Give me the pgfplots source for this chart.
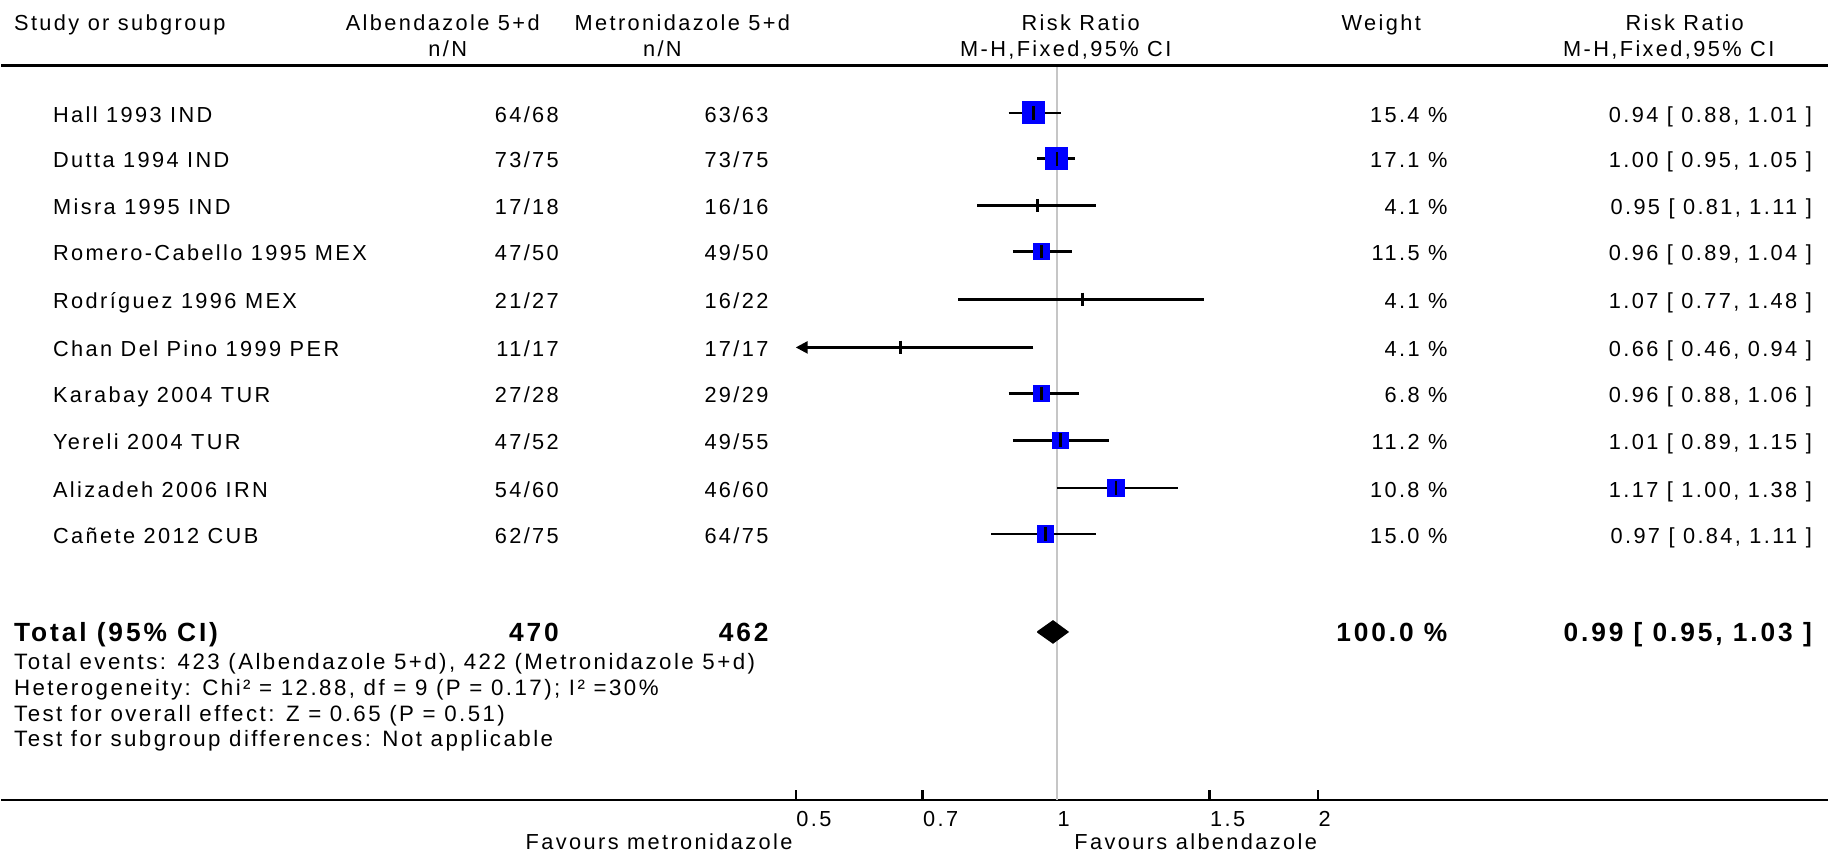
\documentclass[border=0pt]{standalone}
\usepackage{fontspec}
\setmainfont{Liberation Sans}[LetterSpace=11]
\usepackage{pgfplots}
\pgfplotsset{compat=1.18}
\usetikzlibrary{arrows.meta}

% text cell: anchor, x (px from left), y (px from top), text
\newcommand{\cell}[4]{\node[anchor=#1, inner sep=0pt] at (rel axis cs:#2/1829,1-#3/801) {#4};}
\newcommand{\bigb}{\fontsize{7.5}{9}\selectfont\bfseries}
\newcommand{\foot}{\fontsize{6.35}{7.6}\selectfont}

\begin{document}
\begin{tikzpicture}[font=\fontsize{6.2}{7.4}\selectfont]
\begin{axis}[
    scale only axis,
    width=182.9mm, height=80.1mm,
    xmode=log,
    xmin=0.0607, xmax=7.74,
    ymin=-801, ymax=0,
    axis x line*=bottom,
    axis y line=none,
    x axis line style={line width=0.22mm},
    xtick={0.5,0.7,1,1.5,2},
    xticklabels={0.5,0.7,1,1.5,2},
    minor tick num=0,
    tick align=inside,
    major tick length=1mm,
    xtick style={line width=0.22mm, black},
    xticklabel style={anchor=north west, inner sep=0pt, yshift=-1.1mm,
        font=\fontsize{6.2}{7.4}\selectfont},
    clip=false,
]

% line of no effect
\addplot[gray!45, line width=0.22mm] coordinates {(1,-66) (1,-801)};

% ---- confidence intervals ----
\addplot[black, line width=0.25mm] coordinates {(0.88,-113) (1.01,-113)};
\addplot[black, line width=0.25mm] coordinates {(0.95,-159) (1.05,-159)};
\addplot[black, line width=0.25mm] coordinates {(0.81,-206) (1.11,-206)};
\addplot[black, line width=0.25mm] coordinates {(0.89,-252) (1.04,-252)};
\addplot[black, line width=0.25mm] coordinates {(0.77,-300) (1.48,-300)};
\addplot[black, line width=0.25mm, -{Triangle[length=1.2mm,width=1.2mm]}]
    coordinates {(0.94,-348) (0.5,-348)};   % lower limit 0.46 is off scale
\addplot[black, line width=0.25mm] coordinates {(0.88,-394) (1.06,-394)};
\addplot[black, line width=0.25mm] coordinates {(0.89,-441) (1.15,-441)};
\addplot[black, line width=0.25mm] coordinates {(1.00,-489) (1.38,-489)};
\addplot[black, line width=0.25mm] coordinates {(0.84,-535) (1.11,-535)};

% ---- weight squares ----
\addplot[only marks, mark=square*, mark size=1.08mm, blue, mark options={draw=blue, fill=blue}]
    coordinates {(0.94,-113) (1.00,-159)};
\addplot[only marks, mark=square*, mark size=0.8mm, blue, mark options={draw=blue, fill=blue}]
    coordinates {(1.01,-441) (1.17,-489) (0.97,-535)};
\addplot[only marks, mark=square*, mark size=0.76mm, blue, mark options={draw=blue, fill=blue}]
    coordinates {(0.96,-252) (0.96,-394)};

% ---- point estimates ----
\addplot[only marks, mark=|, mark size=0.68mm, black, mark options={line width=0.25mm}]
    coordinates {
        (0.94,-113) (1.00,-159) (0.95,-206) (0.96,-252) (1.07,-300)
        (0.66,-348) (0.96,-394) (1.01,-441) (1.17,-489) (0.97,-535)
    };

% ---- pooled estimate ----
\addplot[black, fill=black]
    coordinates {(0.95,-633) (0.99,-622) (1.03,-633) (0.99,-644) (0.95,-633)};

% header rule
\draw[line width=0.3mm] (rel axis cs:0,1-66/801) -- (rel axis cs:1,1-66/801);

% ---- header ----
\cell{mid west}{12}{21}{Study or subgroup}
\cell{mid}{442}{21}{Albendazole 5+d}
\cell{mid}{447}{47}{n/N}
\cell{mid}{682}{21}{Metronidazole 5+d}
\cell{mid}{662}{47}{n/N}
\cell{mid}{1081}{21}{Risk Ratio}
\cell{mid}{1066}{47}{M-H,Fixed,95\% CI}
\cell{mid}{1382}{21}{Weight}
\cell{mid}{1686}{21}{Risk Ratio}
\cell{mid}{1670}{47}{M-H,Fixed,95\% CI}

% ---- study rows ----
\cell{mid west}{51}{113}{Hall 1993 IND}
\cell{mid west}{51}{159}{Dutta 1994 IND}
\cell{mid west}{51}{206}{Misra 1995 IND}
\cell{mid west}{51}{252}{Romero-Cabello 1995 MEX}
\cell{mid west}{51}{300}{Rodríguez 1996 MEX}
\cell{mid west}{51}{348}{Chan Del Pino 1999 PER}
\cell{mid west}{51}{394}{Karabay 2004 TUR}
\cell{mid west}{51}{441}{Yereli 2004 TUR}
\cell{mid west}{51}{489}{Alizadeh 2006 IRN}
\cell{mid west}{51}{535}{Cañete 2012 CUB}

\cell{mid east}{559}{113}{64/68}
\cell{mid east}{559}{159}{73/75}
\cell{mid east}{559}{206}{17/18}
\cell{mid east}{559}{252}{47/50}
\cell{mid east}{559}{300}{21/27}
\cell{mid east}{559}{348}{11/17}
\cell{mid east}{559}{394}{27/28}
\cell{mid east}{559}{441}{47/52}
\cell{mid east}{559}{489}{54/60}
\cell{mid east}{559}{535}{62/75}

\cell{mid east}{769}{113}{63/63}
\cell{mid east}{769}{159}{73/75}
\cell{mid east}{769}{206}{16/16}
\cell{mid east}{769}{252}{49/50}
\cell{mid east}{769}{300}{16/22}
\cell{mid east}{769}{348}{17/17}
\cell{mid east}{769}{394}{29/29}
\cell{mid east}{769}{441}{49/55}
\cell{mid east}{769}{489}{46/60}
\cell{mid east}{769}{535}{64/75}

\cell{mid east}{1449}{113}{15.4 \%}
\cell{mid east}{1449}{159}{17.1 \%}
\cell{mid east}{1449}{206}{4.1 \%}
\cell{mid east}{1449}{252}{11.5 \%}
\cell{mid east}{1449}{300}{4.1 \%}
\cell{mid east}{1449}{348}{4.1 \%}
\cell{mid east}{1449}{394}{6.8 \%}
\cell{mid east}{1449}{441}{11.2 \%}
\cell{mid east}{1449}{489}{10.8 \%}
\cell{mid east}{1449}{535}{15.0 \%}

\cell{mid east}{1814}{113}{0.94 [ 0.88, 1.01 ]}
\cell{mid east}{1814}{159}{1.00 [ 0.95, 1.05 ]}
\cell{mid east}{1814}{206}{0.95 [ 0.81, 1.11 ]}
\cell{mid east}{1814}{252}{0.96 [ 0.89, 1.04 ]}
\cell{mid east}{1814}{300}{1.07 [ 0.77, 1.48 ]}
\cell{mid east}{1814}{348}{0.66 [ 0.46, 0.94 ]}
\cell{mid east}{1814}{394}{0.96 [ 0.88, 1.06 ]}
\cell{mid east}{1814}{441}{1.01 [ 0.89, 1.15 ]}
\cell{mid east}{1814}{489}{1.17 [ 1.00, 1.38 ]}
\cell{mid east}{1814}{535}{0.97 [ 0.84, 1.11 ]}

% ---- total ----
\cell{mid west}{12}{633}{\bigb Total (95\% CI)}
\cell{mid east}{559}{633}{\bigb 470}
\cell{mid east}{769}{633}{\bigb 462}
\cell{mid east}{1449}{633}{\bigb 100.0 \%}
\cell{mid east}{1814}{633}{\bigb 0.99 [ 0.95, 1.03 ]}

\cell{mid west}{12}{661}{\foot Total events: 423 (Albendazole 5+d), 422 (Metronidazole 5+d)}
\cell{mid west}{12}{687}{\foot Heterogeneity: Chi² = 12.88, df = 9 (P = 0.17); I² =30\%}
\cell{mid west}{12}{713}{\foot Test for overall effect: Z = 0.65 (P = 0.51)}
\cell{mid west}{12}{738}{\foot Test for subgroup differences: Not applicable}

% ---- favours labels ----
\cell{mid east}{793}{842}{Favours metronidazole}
\cell{mid west}{1074}{842}{Favours albendazole}

% page extent
\path (rel axis cs:0,1) rectangle (rel axis cs:1,1-855/801);
\end{axis}
\end{tikzpicture}
\end{document}
